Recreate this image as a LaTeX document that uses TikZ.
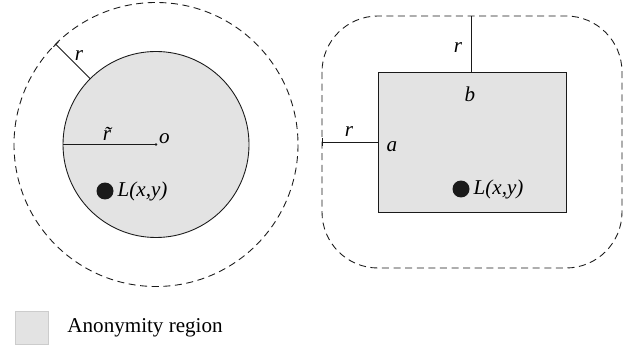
\documentclass[tikz,border=0pt]{standalone}
\usepackage{fontspec}
\setmainfont{Liberation Serif}
\usepackage{tikz}
\usetikzlibrary{arrows.meta,positioning,calc}
\definecolor{regionc}{HTML}{E3E3E3}
\definecolor{linec}{HTML}{1A1A1A}
\tikzset{
  region/.style={draw=linec,line width=0.5pt,fill=regionc},
  halo/.style={draw=linec,line width=0.5pt,dash pattern=on 4pt off 2.6pt},
  radius/.style={draw=linec,line width=0.5pt},
  tick/.style={radius,{Bar[width=4pt,line width=0.5pt]}-},
  lbl/.style={font=\fontsize{12}{14}\selectfont\itshape,inner sep=1pt},
  loc/.style={circle,fill=linec,minimum size=0.34cm,inner sep=0pt},
  keybox/.style={fill=regionc,draw=regionc!90!black,line width=0.3pt,minimum size=0.66cm,inner sep=0pt},
}

\begin{document}
\begin{tikzpicture}[x=0.02cm,y=-0.02cm]
  \useasboundingbox (0,0) rectangle (631,347);
  % circular region
  \coordinate (o) at (156,144.5);
  \draw[halo] (o) circle (142);
  \draw[region] (o) circle (93);
  \coordinate (cin) at ($(o)+(225:93)$);
  \coordinate (cout) at ($(o)+(225:142)$);
  \draw[tick] (cout) -- (cin);
  \node[lbl] at (79,56) {r};
  \coordinate (cw) at ($(o)+(-93,0)$);
  \draw[radius] (cw) -- (o);
  \fill[linec] (o) circle (1.4);
  \node[lbl] at (107,134) {\~{r}};
  \node[lbl,anchor=west] at (157,139) {o};
  \node[loc] (p1) at (105,191) {};
  \node[lbl,anchor=west,right=1pt of p1] {L(x,y)};
  % rectangular region
  \draw[halo,rounded corners=1.12cm] (322,16) rectangle (622,268);
  \node[region,minimum width=3.76cm,minimum height=2.8cm,anchor=north west] (rect) at (378,72) {};
  \coordinate (rtop) at (471,72);
  \coordinate (htop) at (471,16);
  \draw[radius] (htop) -- (rtop);
  \node[lbl] at (458,48) {r};
  \node[lbl] at (470,94) {b};
  \coordinate (rleft) at (378,142);
  \coordinate (hleft) at (322,142);
  \draw[tick] (hleft) -- (rleft);
  \node[lbl] at (349,132) {r};
  \node[lbl] at (392,147) {a};
  \node[loc] (p2) at (461,189) {};
  \node[lbl,anchor=west,right=1pt of p2] {L(x,y)};
  % legend
  \node[keybox] (key) at (31.5,328) {};
  \node[font=\fontsize{12}{14}\selectfont,anchor=west,right=0.26cm of key] {Anonymity region};
\end{tikzpicture}
\end{document}
